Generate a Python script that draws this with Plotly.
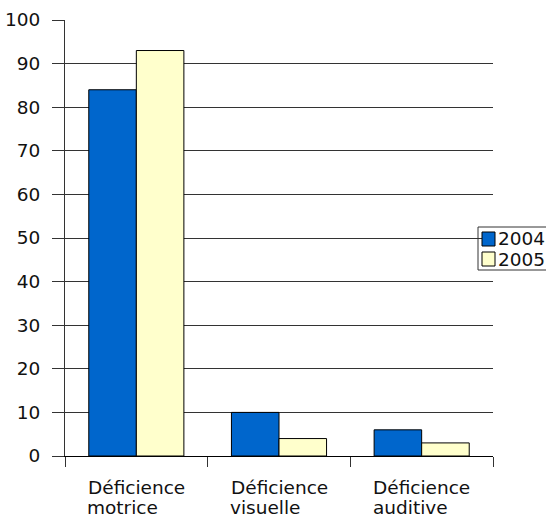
import plotly.graph_objects as go

# Data
categories = [("Déficience", "motrice"), ("Déficience", "visuelle"), ("Déficience", "auditive")]
series_names = ["2004", "2005"]
values_2004 = [84, 10, 6]
values_2005 = [93, 4, 3]
series_colors = ["#0066cc", "#ffffcc"]
y_ticks = [0, 10, 20, 30, 40, 50, 60, 70, 80, 90, 100]

FONT = "DejaVu Sans"
FS = 18.5
W, H = 546, 517
ML, MR, MT, MB = 65, 53, 20, 61

fig = go.Figure()
for name, vals, col in zip(series_names, [values_2004, values_2005], series_colors):
    fig.add_trace(go.Bar(
        x=list(range(len(categories))), y=vals, name=name,
        marker=dict(color=col, line=dict(color="#000000", width=1)),
        showlegend=False,
    ))

fig.update_layout(
    width=W, height=H,
    margin=dict(l=ML, r=MR, t=MT, b=MB),
    plot_bgcolor="white", paper_bgcolor="white",
    barmode="group", bargap=1/3, bargroupgap=0,
    font=dict(family=FONT, size=FS, color="#111111"),
)
fig.update_xaxes(
    type="linear", range=[-0.5, len(categories) - 0.5],
    tickvals=[i - 0.5 for i in range(len(categories) + 1)],
    ticktext=[""] * (len(categories) + 1),
    ticks="outside", ticklen=10, tickcolor="#333333", tickwidth=1,
    showline=True, linecolor="#000000", linewidth=1,
    showgrid=False, zeroline=False, automargin=False,
)
fig.update_yaxes(
    range=[0, 100], tickvals=y_ticks,
    ticks="outside", ticklen=12, tickcolor="#333333", tickwidth=1,
    showline=True, linecolor="#333333", linewidth=1,
    showgrid=True, gridcolor="#333333", gridwidth=1, zeroline=False,
    ticklabelstandoff=8, automargin=False,
)

# Two-line category labels, second line left-aligned with the first
HALF_LINE1 = 51
for i, (line1, line2) in enumerate(categories):
    fig.add_annotation(
        x=i, y=0, xref="x", yref="paper", text=line1, showarrow=False,
        xanchor="center", yanchor="middle", yshift=-31,
        font=dict(family=FONT, size=FS, color="#111111"),
    )
    fig.add_annotation(
        x=i, y=0, xref="x", yref="paper", text=line2, showarrow=False,
        xanchor="left", yanchor="middle", xshift=-HALF_LINE1, yshift=-51,
        font=dict(family=FONT, size=FS, color="#111111"),
    )

# Compact legend drawn with shapes and text
pw = W - ML - MR
ph = H - MT - MB
def px_x(p):
    return (p - ML) / pw
def px_y(p):
    return (H - MB - p) / ph

fig.add_shape(type="rect", xref="paper", yref="paper",
              x0=px_x(478), x1=px_x(560), y0=px_y(270), y1=px_y(227),
              line=dict(color="#333333", width=1), fillcolor="rgba(0,0,0,0)", layer="above")
for k, (name, col) in enumerate(zip(series_names, series_colors)):
    top = 232 + k * 20
    fig.add_shape(type="rect", xref="paper", yref="paper",
                  x0=px_x(482), x1=px_x(495), y0=px_y(top + 14), y1=px_y(top),
                  line=dict(color="#000000", width=1), fillcolor=col, layer="above")
    fig.add_annotation(x=px_x(496), y=px_y(top + 7), xref="paper", yref="paper",
                       text=name, showarrow=False, xanchor="left", yanchor="middle",
                       font=dict(family=FONT, size=FS, color="#111111"))

fig.write_html("out.html")
